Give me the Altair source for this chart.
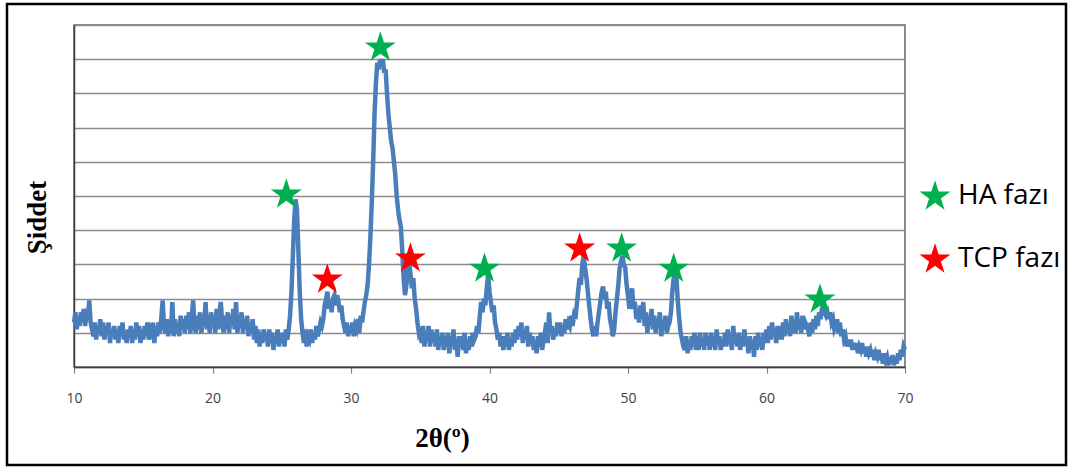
import altair as alt
import pandas as pd

theta_start = 10.0
theta_step = 0.1

intensity_rows = [
    [1.3, 1.6, 1.1, 1.5, 1.2, 1.6, 1.3, 1.7, 1.2, 1.5],   # 10
    [1.4, 1.95, 1.3, 1.1, 0.9, 1.3, 0.8, 1.2, 1.0, 1.4],  # 11
    [0.9, 1.3, 0.8, 1.2, 1.0, 1.3, 0.7, 1.1, 0.9, 1.2],   # 12
    [0.8, 1.1, 0.7, 1.2, 0.9, 1.3, 0.8, 1.0, 0.7, 1.1],   # 13
    [0.9, 1.2, 0.7, 1.1, 0.8, 1.3, 0.9, 1.2, 0.7, 1.1],   # 14
    [0.8, 1.2, 0.9, 1.3, 0.8, 1.1, 1.0, 1.3, 0.7, 1.2],   # 15
    [0.9, 1.3, 1.0, 1.4, 1.95, 1.2, 1.0, 1.4, 0.9, 1.3],  # 16
    [1.0, 1.9, 0.9, 1.4, 1.0, 1.3, 0.9, 1.5, 1.1, 1.4],   # 17
    [1.0, 1.5, 1.1, 1.6, 1.0, 1.4, 1.95, 1.2, 1.0, 1.5],  # 18
    [1.1, 1.6, 1.0, 1.4, 1.2, 1.9, 1.1, 1.5, 1.0, 1.6],   # 19
    [1.2, 1.5, 1.0, 1.7, 1.1, 1.6, 1.9, 1.3, 1.0, 1.5],   # 20
    [1.1, 1.6, 1.0, 1.5, 1.2, 1.7, 1.1, 1.9, 1.0, 1.4],   # 21
    [1.2, 1.6, 1.0, 1.4, 1.1, 1.5, 0.9, 1.3, 1.0, 1.4],   # 22
    [0.8, 1.2, 0.7, 1.1, 0.6, 1.0, 0.7, 1.1, 0.8, 1.0],   # 23
    [0.6, 1.1, 0.7, 1.0, 0.5, 0.9, 0.7, 1.1, 0.6, 1.0],   # 24
    [0.7, 1.0, 0.6, 1.1, 0.8, 1.1, 1.5, 2.2, 3.2, 4.3],   # 25
    [4.9, 4.6, 3.4, 2.2, 1.4, 1.0, 0.7, 1.1, 0.6, 0.9],   # 26
    [0.8, 1.1, 0.7, 1.0, 0.8, 1.2, 0.9, 1.1, 1.3, 1.2],   # 27
    [1.4, 1.8, 2.0, 2.2, 1.7, 1.9, 1.6, 2.0, 2.1, 1.8],   # 28
    [2.1, 1.9, 1.6, 1.8, 1.4, 1.2, 1.0, 1.3, 0.9, 1.2],   # 29
    [1.0, 1.3, 0.9, 1.2, 1.1, 1.4, 1.0, 1.5, 1.3, 1.6],   # 30
    [1.9, 2.1, 2.4, 3.0, 3.8, 4.8, 6.0, 7.4, 8.3, 8.9],   # 31
    [8.7, 9.0, 8.8, 9.0, 8.6, 8.7, 8.0, 7.4, 7.0, 6.6],   # 32
    [6.4, 6.0, 5.6, 5.0, 4.6, 4.3, 4.1, 3.4, 2.6, 2.1],   # 33
    [2.4, 2.9, 3.1, 2.7, 2.3, 2.6, 2.0, 1.7, 1.3, 1.0],   # 34
    [1.1, 0.7, 1.2, 0.6, 1.0, 0.8, 1.2, 0.6, 1.1, 0.7],   # 35
    [1.0, 0.6, 1.1, 0.5, 0.9, 0.7, 1.0, 0.5, 0.9, 0.6],   # 36
    [1.0, 0.4, 0.9, 0.6, 1.1, 0.5, 0.8, 0.3, 0.9, 0.6],   # 37
    [0.9, 0.5, 1.0, 0.4, 0.8, 0.5, 0.9, 0.6, 1.0, 0.8],   # 38
    [0.9, 1.2, 1.0, 1.5, 1.9, 1.6, 2.0, 1.8, 2.3, 2.7],   # 39
    [2.2, 1.9, 1.6, 1.8, 1.3, 1.1, 0.8, 1.0, 0.6, 0.9],   # 40
    [0.5, 0.9, 0.6, 1.0, 0.5, 0.8, 0.6, 1.0, 0.7, 1.1],   # 41
    [0.8, 1.2, 0.9, 1.3, 0.7, 1.1, 0.8, 1.2, 0.6, 1.0],   # 42
    [0.7, 0.9, 0.5, 0.8, 0.4, 0.9, 0.6, 1.0, 0.5, 0.8],   # 43
    [1.0, 1.3, 0.7, 1.6, 1.0, 1.2, 0.8, 1.1, 0.9, 1.3],   # 44
    [1.0, 1.3, 0.9, 1.2, 1.0, 1.4, 1.1, 1.3, 1.2, 1.5],   # 45
    [1.2, 1.5, 1.4, 1.8, 2.2, 2.6, 2.4, 3.0, 3.25, 2.9],  # 46
    [2.6, 2.2, 1.8, 1.4, 1.1, 0.9, 1.2, 0.9, 1.3, 1.6],   # 47
    [1.9, 2.2, 2.35, 2.0, 2.2, 1.7, 1.9, 1.4, 1.2, 0.9],  # 48
    [1.1, 1.6, 2.0, 2.4, 2.9, 3.1, 3.25, 3.0, 2.9, 2.4],  # 49
    [2.1, 1.7, 2.0, 2.3, 1.7, 1.9, 1.4, 1.7, 1.3, 1.8],   # 50
    [1.4, 1.9, 1.2, 1.6, 1.0, 1.5, 1.2, 1.7, 1.1, 1.5],   # 51
    [1.0, 1.4, 1.2, 1.6, 0.9, 1.3, 1.1, 1.5, 1.0, 1.2],   # 52
    [1.3, 1.6, 2.2, 2.6, 2.9, 2.6, 1.9, 1.4, 1.0, 0.8],   # 53
    [0.6, 0.5, 0.9, 0.4, 0.8, 0.5, 0.9, 0.6, 1.0, 0.5],   # 54
    [0.9, 0.5, 1.0, 0.6, 0.8, 0.5, 1.0, 0.7, 0.9, 0.5],   # 55
    [1.0, 0.6, 0.9, 0.5, 1.1, 0.7, 0.9, 0.5, 0.8, 0.6],   # 56
    [1.0, 0.6, 1.1, 0.7, 0.9, 0.5, 1.2, 0.7, 0.9, 0.6],   # 57
    [1.0, 0.5, 0.9, 0.6, 1.1, 0.7, 0.8, 0.4, 0.9, 0.5],   # 58
    [0.8, 0.3, 0.9, 0.5, 1.0, 0.6, 0.8, 0.5, 1.0, 0.7],   # 59
    [1.1, 0.7, 1.2, 0.8, 1.3, 0.9, 1.1, 0.7, 1.2, 0.8],   # 60
    [1.2, 0.8, 1.3, 0.9, 1.4, 1.0, 1.2, 0.9, 1.5, 1.0],   # 61
    [1.3, 1.0, 1.6, 1.1, 1.4, 1.0, 1.5, 1.1, 1.3, 1.2],   # 62
    [1.1, 0.9, 1.3, 1.0, 1.4, 1.1, 1.5, 1.2, 1.6, 1.4],   # 63
    [1.7, 1.8, 1.6, 1.5, 1.6, 1.4, 1.6, 1.3, 1.4, 1.1],   # 64
    [1.2, 1.4, 1.0, 1.3, 0.9, 1.1, 0.8, 0.9, 0.6, 0.8],   # 65
    [0.6, 0.8, 0.5, 0.7, 0.5, 0.7, 0.4, 0.6, 0.5, 0.7],   # 66
    [0.4, 0.6, 0.3, 0.6, 0.4, 0.5, 0.3, 0.5, 0.2, 0.4],   # 67
    [0.3, 0.5, 0.2, 0.4, 0.1, 0.4, 0.2, 0.3, 0.05, 0.3],  # 68
    [0.1, 0.35, 0.05, 0.3, 0.1, 0.4, 0.2, 0.5, 0.3, 0.6], # 69
    [0.5],                                                 # 70
]

ha_theta = [25.33, 32.12, 39.64, 49.54, 53.30, 63.86]
ha_height = [5.09, 9.39, 2.92, 3.51, 2.92, 2.02]
tcp_theta = [28.29, 34.29, 46.51]
tcp_height = [2.60, 3.22, 3.51]

phase_names = ["HA fazı", "TCP fazı"]
phase_colors = ["#00B050", "#FF0000"]

x_ticks = [10, 20, 30, 40, 50, 60, 70]
y_grid = [0, 1, 2, 3, 4, 5, 6, 7, 8, 9, 10]

# five-pointed star symbol (unit path, centred)
STAR = ("M0,-0.905 L0.225,-0.214 L0.951,-0.214 L0.363,0.213 L0.588,0.904 "
        "L0,0.477 L-0.588,0.904 L-0.363,0.213 L-0.951,-0.214 L-0.225,-0.214 Z")

intensity = [v for row in intensity_rows for v in row]
theta = [round(theta_start + i * theta_step, 1) for i in range(len(intensity))]
xrd = pd.DataFrame({"theta": theta, "intensity": intensity})

stars = pd.DataFrame({
    "theta": ha_theta + tcp_theta,
    "height": ha_height + tcp_height,
    "phase": [phase_names[0]] * len(ha_theta) + [phase_names[1]] * len(tcp_theta),
})

W, H = 831, 342
PL, PT = 74, 25

x_scale = alt.Scale(domain=[10, 70], nice=False, zero=False)
y_scale = alt.Scale(domain=[0, 10], nice=False, zero=True)
color_scale = alt.Scale(domain=phase_names, range=phase_colors)

x_axis = alt.Axis(
    orient="bottom", values=x_ticks, grid=False, title="2θ(º)",
    domainColor="#404040", domainWidth=1.5,
    tickColor="#808080", tickSize=6, tickWidth=1.2,
    labelFont="Open Sans", labelFontSize=14, labelColor="#404040", labelPadding=18,
    labelFlush=False,
    titleFont="Liberation Serif", titleFontSize=27, titleFontWeight="bold", titleColor="black",
    titleX=368, titleY=79, titleBaseline="alphabetic", titleAlign="center",
)
y_axis = alt.Axis(
    orient="left", values=y_grid, grid=True, gridColor="#8c8c8c", gridWidth=1.5,
    labels=False, ticks=False, domainColor="#404040", domainWidth=1.5,
    title="Şiddet", titleFont="Liberation Serif", titleFontSize=27, titleFontWeight="bold",
    titleColor="black", titleAngle=270, titleX=-37, titleY=192,
    titleAlign="center", titleBaseline="middle",
)

line = alt.Chart(xrd).mark_line(color="#4A7EBB", strokeWidth=4.5).encode(
    x=alt.X("theta:Q", scale=x_scale, axis=x_axis),
    y=alt.Y("intensity:Q", scale=y_scale, axis=y_axis),
)

points = alt.Chart(stars).mark_point(shape=STAR, filled=True, size=1060, opacity=1).encode(
    x=alt.X("theta:Q", scale=x_scale, axis=x_axis),
    y=alt.Y("height:Q", scale=y_scale, axis=y_axis),
    color=alt.Color("phase:N", scale=color_scale, legend=None),
)

# legend entries at the right of the plot
legend_layers = []
for i, name in enumerate(phase_names):
    d = pd.DataFrame({"phase": [name]})
    ly = 170 + i * 63
    legend_layers.append(
        alt.Chart(d).mark_point(shape=STAR, filled=True, size=1060, opacity=1).encode(
            x=alt.value(861), y=alt.value(ly),
            color=alt.Color("phase:N", scale=color_scale, legend=None),
        )
    )
    legend_layers.append(
        alt.Chart(d).mark_text(
            align="left", baseline="middle", font="Open Sans", fontSize=28, color="black"
        ).encode(x=alt.value(884), y=alt.value(ly + 1), text="phase:N")
    )

frame = alt.Chart(pd.DataFrame({"k": [0]})).mark_rect(
    filled=False, stroke="black", strokeWidth=2.5
).encode(
    x=alt.value(7 - PL), x2=alt.value(1066 - PL),
    y=alt.value(4 - PT), y2=alt.value(465 - PT),
)

chart = alt.layer(line, points, *legend_layers, frame).properties(
    width=W, height=H,
    autosize=alt.AutoSizeParams(type="none"),
    padding={"left": PL, "top": PT, "right": 1068 - PL - W, "bottom": 468 - PT - H},
    background="white",
).configure_view(stroke="#666666", strokeWidth=1.5)

chart.save("out.html", embed_options={"renderer": "svg", "actions": False})
